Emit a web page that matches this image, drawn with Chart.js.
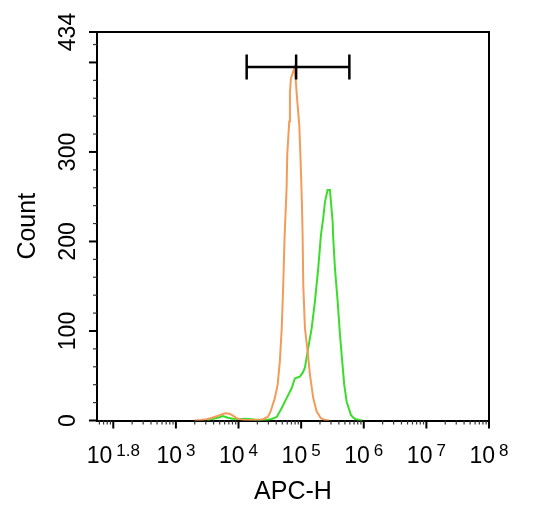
<!DOCTYPE html>
<html><head><meta charset="utf-8">
<script src="https://cdn.jsdelivr.net/npm/chart.js@4.4.1/dist/chart.umd.min.js"></script>
<style>html,body{margin:0;padding:0;background:#fff;}#wrap{width:538px;height:507px;}</style>
</head><body><div id="wrap"><canvas id="c" width="538" height="507"></canvas></div>
<script>
// ---- data ----
const xExpMin = 1.74, xExpMax = 8;
const yMax = 434;
const xTickExps = [2, 3, 4, 5, 6, 7, 8];
const xTickExpLabels = ['1.8', '3', '4', '5', '6', '7', '8'];
const yTickLabels = [0, 100, 200, 300, 434];
const yMajorTicks = [0, 100, 200, 300, 400, 434];
const yMinorStep = 20;
const xTitle = 'APC-H';
const yTitle = 'Count';

const orangeExp = [3.30,3.40,3.46,3.52,3.58,3.64,3.70,3.76,3.80,3.85,3.90,3.95,3.99,4.05,4.10,4.20,4.30,4.36,4.40,4.465,4.50,4.53,4.58,4.625,4.66,4.69,4.714,4.735,4.768,4.778,4.81,4.821,4.837,4.89,4.912,4.928,4.97,4.992,5.013,5.024,5.034,5.061,5.104,5.141,5.193,5.248,5.316,5.38,5.45];
const orangeCount = [0,0.5,1,2,3,4.5,6,7.5,8,7.5,6,3.5,2,1,0.5,0.5,0.5,1,1.7,4,8,14,25,40,66,103,151,204,260,297,334,366,382,393.5,382,366,330,289,241,204,151,103,77,51,25,10,2.5,0.5,0];

const greenExp = [3.50,3.54,3.60,3.67,3.75,3.83,3.90,3.94,4.00,4.10,4.20,4.26,4.35,4.45,4.53,4.61,4.69,4.768,4.848,4.90,4.94,4.98,5.03,5.06,5.113,5.168,5.22,5.273,5.316,5.353,5.38,5.422,5.46,5.476,5.503,5.51,5.54,5.583,5.62,5.656,5.688,5.727,5.796,5.859,5.93,5.98];
const greenCount = [0,1,2,3,5,3,2,2,1.5,2,1.5,1,0.5,0.5,1.7,4,14,25,36,47,48,49,54,59,81,103,133,170,207,226,244,257.5,257.5,244,222,207,170,133,96,66,40,21,6,1.7,0.5,0];

const gateExp = [4.13, 4.92, 5.77];   // left, centre, right of the marker bar
const gateLevel = 395;
const gateCapLow = 381, gateCapHigh = 409;

// ---- build ----
const toPts = (ex, ys) => ex.map((e, i) => ({x: Math.pow(10, e), y: ys[i]}));
const gatePts = [];
gateExp.forEach((e, i) => {
  const v = Math.pow(10, e);
  gatePts.push({x: v, y: gateCapLow}, {x: v, y: gateCapHigh}, {x: v, y: null});
});
gatePts.push({x: Math.pow(10, gateExp[0]), y: gateLevel}, {x: Math.pow(10, gateExp[2]), y: gateLevel});

const FONT = '"Liberation Sans", Arial, Helvetica, sans-serif';

const axisDecor = {
  id: 'axisDecor',
  afterDatasetsDraw(chart) {
    const {ctx, chartArea: a, scales: {x, y}} = chart;
    ctx.save();
    ctx.strokeStyle = '#000';
    ctx.lineWidth = 2;
    ctx.beginPath();
    ctx.moveTo(a.left, a.top); ctx.lineTo(a.right, a.top); ctx.lineTo(a.right, a.bottom);
    ctx.stroke();
    // x ticks
    const lo = Math.pow(10, xExpMin) * 0.9999, hi = Math.pow(10, xExpMax) * 1.0001;
    for (let d = Math.floor(xExpMin); d <= xExpMax; d++) {
      for (let m = 1; m < 10; m++) {
        const v = m * Math.pow(10, d);
        if (v < lo || v > hi) continue;
        const px = x.getPixelForValue(v);
        const major = m === 1;
        ctx.lineWidth = major ? 2 : 1.2;
        ctx.strokeStyle = major ? '#000' : '#333';
        ctx.beginPath();
        ctx.moveTo(px, a.bottom);
        ctx.lineTo(px, a.bottom + (major ? 8 : 4));
        ctx.stroke();
      }
    }
    // y ticks
    const yVals = [];
    for (let v = 0; v <= yMax; v += yMinorStep) yVals.push(v);
    yVals.push(yMax);
    yVals.forEach(v => {
      const py = y.getPixelForValue(v);
      const major = yMajorTicks.includes(v);
      ctx.lineWidth = major ? 2 : 1.2;
      ctx.strokeStyle = major ? '#000' : '#333';
      ctx.beginPath();
      ctx.moveTo(a.left, py);
      ctx.lineTo(a.left - (major ? 8 : 4), py);
      ctx.stroke();
    });
    // y labels
    ctx.fillStyle = '#000';
    ctx.font = '23px ' + FONT;
    ctx.textAlign = 'center';
    ctx.textBaseline = 'alphabetic';
    yTickLabels.forEach(v => {
      const py = y.getPixelForValue(v);
      ctx.save();
      ctx.translate(a.left - 22, py);
      ctx.rotate(-Math.PI / 2);
      ctx.fillText(String(v), 0, 0);
      ctx.restore();
    });
    // x labels: 10 with superscript exponent
    ctx.textAlign = 'left';
    xTickExps.forEach((e, i) => {
      const px = x.getPixelForValue(Math.pow(10, e));
      ctx.font = '23px ' + FONT;
      const wb = ctx.measureText('10').width;
      ctx.font = '17px ' + FONT;
      const we = ctx.measureText(xTickExpLabels[i]).width;
      const gap = 4;
      const start = px - (wb + gap + we) / 2;
      ctx.font = '23px ' + FONT;
      ctx.fillText('10', start, a.bottom + 42);
      ctx.font = '17px ' + FONT;
      ctx.fillText(xTickExpLabels[i], start + wb + gap, a.bottom + 35);
    });
    ctx.restore();
  }
};

new Chart(document.getElementById('c'), {
  type: 'scatter',
  data: {
    datasets: [
      {label: 'gate', data: gatePts, showLine: true, spanGaps: false, borderColor: '#000', borderWidth: 2.5, pointRadius: 0, tension: 0},
      {label: 'orange', data: toPts(orangeExp, orangeCount), showLine: true, borderColor: '#F39B59', borderWidth: 2, pointRadius: 0, tension: 0},
      {label: 'green', data: toPts(greenExp, greenCount), showLine: true, borderColor: '#3BDD2B', borderWidth: 2, pointRadius: 0, tension: 0}
    ]
  },
  options: {
    responsive: false,
    animation: false,
    layout: {padding: {top: 32, right: 49, left: 0, bottom: 0}},
    plugins: {legend: {display: false}, tooltip: {enabled: false}},
    scales: {
      x: {
        type: 'logarithmic', position: 'bottom',
        min: Math.pow(10, xExpMin), max: Math.pow(10, xExpMax),
        grid: {display: false, drawTicks: false},
        border: {display: true, color: '#000', width: 2},
        ticks: {display: false},
        title: {display: true, text: xTitle, color: '#000', font: {family: FONT, size: 25}, padding: {top: 0, bottom: 0}},
        afterFit(s) { s.height = 86.5; }
      },
      y: {
        type: 'linear', position: 'left', min: 0, max: yMax,
        grid: {display: false, drawTicks: false},
        border: {display: true, color: '#000', width: 2},
        ticks: {display: false},
        title: {display: true, text: yTitle, color: '#000', font: {family: FONT, size: 25}, padding: {top: 13, bottom: 0}},
        afterFit(s) { s.width = 97; }
      }
    }
  },
  plugins: [axisDecor]
});
</script>
</body></html>
